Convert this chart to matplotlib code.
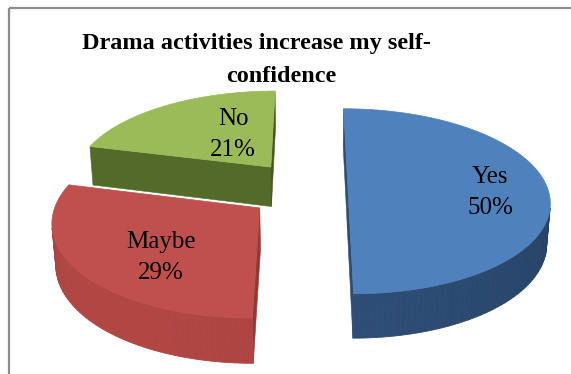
import numpy as np
import matplotlib
matplotlib.use("Agg")
import matplotlib.pyplot as plt
from matplotlib.patches import Polygon, Rectangle

# ---- data ----
categories = ["Yes", "Maybe", "No"]
shares = [50, 29, 21]
top_colors = ["#4F81BD", "#C0504D", "#9BBB59"]
side_colors = ["#2D4E77", "#AE4542", "#52692B"]
title_lines = ["Drama activities increase my self-", "confidence"]

# ---- layout / camera ----
W, H = 571, 374
ELEV = np.radians(27.07)
DIST = 7.0
FOCAL = 1400.0
CAM_X = 0.05
AXIS_PX = (309.4, 189.5)      # screen position of the camera axis
EXPLODE = 0.243
EXPLODE_DEPTH_GAIN = 1.325
THICK = 0.23
CAM = np.array([CAM_X, -DIST * np.cos(ELEV), DIST * np.sin(ELEV)])

# label baselines (first line) in pixel space
label_anchor = {"Yes": (490, 183), "Maybe": (161, 248), "No": (233, 125)}
label_gap = 31


def project(X, Y, Z):
    X, Y, Z = np.broadcast_arrays(np.asarray(X, float), np.asarray(Y, float),
                                  np.asarray(Z, float))
    py = Y + DIST * np.cos(ELEV)
    pz = Z - DIST * np.sin(ELEV)
    depth = py * np.cos(ELEV) - pz * np.sin(ELEV)
    up = py * np.sin(ELEV) + pz * np.cos(ELEV)
    sx = AXIS_PX[0] + FOCAL * (X - CAM_X) / depth
    sy = AXIS_PX[1] - FOCAL * up / depth
    return np.column_stack([sx.ravel(), sy.ravel()])


def visible(normal, point):
    return np.dot(normal, CAM - point) > 0


def shade(color, factor):
    rgb = np.array(matplotlib.colors.to_rgb(color))
    return tuple(np.clip(rgb * factor, 0, 1))


fig = plt.figure(figsize=(W / 100, H / 100), dpi=100)
ax = fig.add_axes([0, 0, 1, 1])
ax.set_xlim(0, W)
ax.set_ylim(H, 0)
ax.axis("off")

# chart frame
ax.add_patch(Rectangle((9, 8), W + 20, H + 20, fill=False,
                       edgecolor="#8C8C8C", lw=1.6, zorder=1))

# slice angular extents (clockwise from 12 o'clock)
total = float(sum(shares))
bounds = np.concatenate([[0.0], np.cumsum(shares) / total * 2 * np.pi])
slices = []
for i, name in enumerate(categories):
    t0, t1 = bounds[i], bounds[i + 1]
    mid = 0.5 * (t0 + t1)
    cx = EXPLODE * np.sin(mid)
    cy = EXPLODE * EXPLODE_DEPTH_GAIN * np.cos(mid)
    far = np.linalg.norm(np.array([cx, cy, 0.0]) - CAM)
    slices.append((far, i, t0, t1, cx, cy))

# paint far slices first
slices.sort(key=lambda s: -s[0])
z = 2
light = np.array([-0.6, -0.8, 0.0])
for far, i, t0, t1, cx, cy in slices:
    n = max(8, int((t1 - t0) / (2 * np.pi) * 240))
    th = np.linspace(t0, t1, n)
    ax_ = cx + np.sin(th)
    ay_ = cy + np.cos(th)
    top_arc = project(ax_, ay_, 0.0)
    bot_arc = project(ax_, ay_, -THICK)
    ctop = project(cx, cy, 0.0)[0]
    cbot = project(cx, cy, -THICK)[0]

    # radial walls
    for t, nrm in ((t0, np.array([-np.cos(t0), np.sin(t0), 0.0])),
                   (t1, np.array([np.cos(t1), -np.sin(t1), 0.0]))):
        ex, ey = cx + np.sin(t), cy + np.cos(t)
        midpt = np.array([(cx + ex) / 2, (cy + ey) / 2, -THICK / 2])
        if visible(nrm, midpt):
            e_top = project(ex, ey, 0.0)[0]
            e_bot = project(ex, ey, -THICK)[0]
            f = 0.9 + 0.12 * np.dot(nrm, light)
            col = shade(side_colors[i], f)
            ax.add_patch(Polygon([ctop, e_top, e_bot, cbot], closed=True,
                                 facecolor=col, edgecolor=col, lw=0.4,
                                 zorder=z))
    # outer curved wall
    for k in range(n - 1):
        tm = 0.5 * (th[k] + th[k + 1])
        nrm = np.array([np.sin(tm), np.cos(tm), 0.0])
        pt = np.array([cx + np.sin(tm), cy + np.cos(tm), -THICK / 2])
        if visible(nrm, pt):
            f = 0.9 + 0.12 * np.dot(nrm, light)
            col = shade(side_colors[i], f)
            quad = [top_arc[k], top_arc[k + 1], bot_arc[k + 1], bot_arc[k]]
            ax.add_patch(Polygon(quad, closed=True, facecolor=col,
                                 edgecolor=col, lw=0.6, zorder=z))
    z += 1
    # top face
    ax.add_patch(Polygon(np.vstack([ctop, top_arc]), closed=True,
                         facecolor=top_colors[i], edgecolor=top_colors[i],
                         lw=0.5, zorder=z))
    z += 1

# data labels
for name, val in zip(categories, shares):
    x, y = label_anchor[name]
    ax.text(x, y, name, ha="center", va="baseline", fontsize=18,
            family="Liberation Serif", color="black", zorder=50)
    ax.text(x, y + label_gap, f"{val}%", ha="center", va="baseline",
            fontsize=18, family="Liberation Serif", color="black", zorder=50)

# title
ax.text(256.5, 49, title_lines[0], ha="center", va="baseline", fontsize=17.5,
        fontweight="bold", family="Liberation Serif", zorder=50)
ax.text(281.5, 81.5, title_lines[1], ha="center", va="baseline",
        fontsize=17.5, fontweight="bold", family="Liberation Serif", zorder=50)

fig.savefig("out.png", dpi=100)
